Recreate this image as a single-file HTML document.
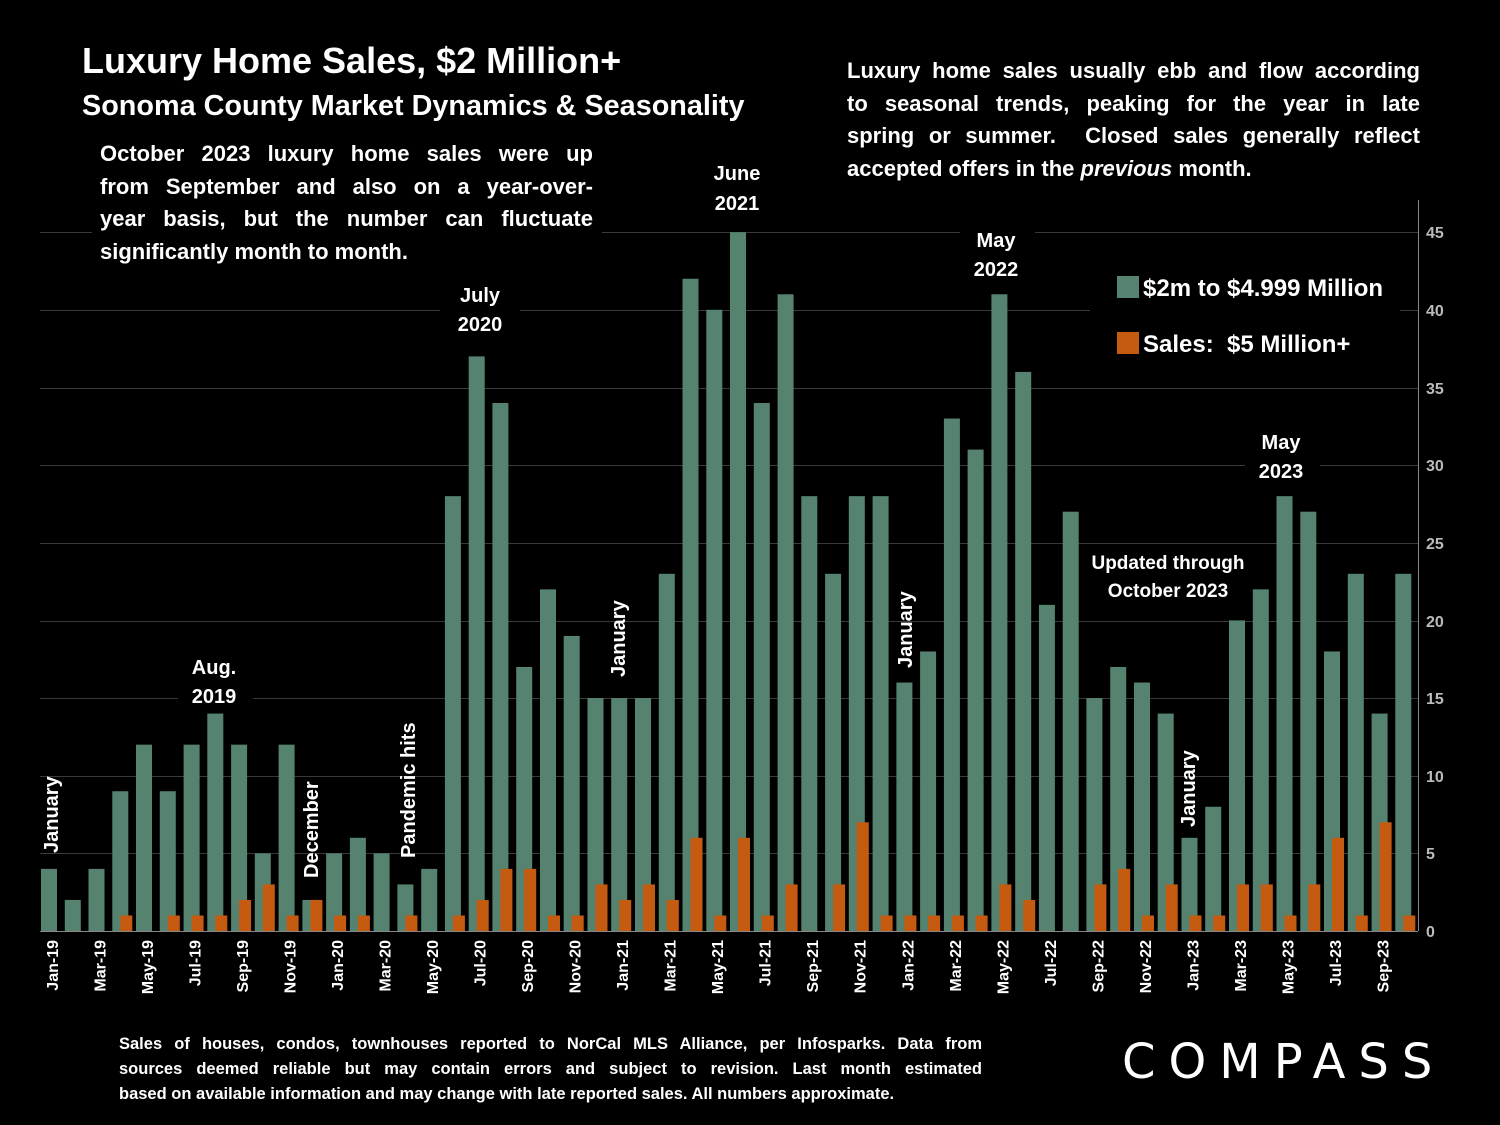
<!DOCTYPE html>
<html><head><meta charset="utf-8"><style>
html,body{margin:0;padding:0;background:#000;}
body{width:1500px;height:1125px;overflow:hidden;position:relative;font-family:"Liberation Sans",sans-serif;color:#fff;}
.abs{position:absolute;}
.j{text-align:justify;text-align-last:justify;white-space:nowrap;}
.l{text-align:left;white-space:nowrap;}
</style></head><body>
<svg width="1500" height="1125" style="position:absolute;left:0;top:0" font-family="Liberation Sans, sans-serif" font-weight="bold">
<rect width="1500" height="1125" fill="#000"/>
<g stroke="#3a3a3a" stroke-width="1">
<line x1="40" x2="1418" y1="853.5" y2="853.5"/>
<line x1="40" x2="1418" y1="776.5" y2="776.5"/>
<line x1="40" x2="1418" y1="698.5" y2="698.5"/>
<line x1="40" x2="1418" y1="621.5" y2="621.5"/>
<line x1="40" x2="1418" y1="543.5" y2="543.5"/>
<line x1="40" x2="1418" y1="465.5" y2="465.5"/>
<line x1="40" x2="1418" y1="388.5" y2="388.5"/>
<line x1="40" x2="1418" y1="310.5" y2="310.5"/>
<line x1="40" x2="1418" y1="232.5" y2="232.5"/>
</g>
<g stroke="#888" stroke-width="1">
<line x1="40" x2="1418" y1="931.5" y2="931.5"/>
<line x1="1418.5" x2="1418.5" y1="200" y2="931"/>
</g>
<g fill="#bbb" font-size="16" font-weight="bold">
<text x="1426" y="937">0</text><text x="1426" y="859">5</text><text x="1426" y="782">10</text><text x="1426" y="704">15</text><text x="1426" y="627">20</text><text x="1426" y="549">25</text><text x="1426" y="471">30</text><text x="1426" y="394">35</text><text x="1426" y="316">40</text><text x="1426" y="238">45</text>
</g>
<g fill="#000">
<rect x="70" y="30" width="690" height="100"/>
<rect x="92" y="137" width="510" height="130"/>
<rect x="835" y="55" width="590" height="135"/>
<rect x="1090" y="265" width="310" height="100"/>
<rect x="440" y="278" width="80" height="60"/>
<rect x="700" y="157" width="75" height="60"/>
<rect x="960" y="223" width="75" height="60"/>
<rect x="1245" y="425" width="75" height="60"/>
<rect x="178" y="650" width="75" height="60"/>
<rect x="1086" y="545" width="164" height="60"/>
</g>
<g transform="translate(0,931) scale(1,-15.53)">
<g fill="#55836f">
<rect x="41" y="0" width="16" height="4"/><rect x="64.8" y="0" width="16" height="2"/><rect x="88.5" y="0" width="16" height="4"/><rect x="112.3" y="0" width="16" height="9"/><rect x="136" y="0" width="16" height="12"/><rect x="159.8" y="0" width="16" height="9"/><rect x="183.6" y="0" width="16" height="12"/><rect x="207.3" y="0" width="16" height="14"/><rect x="231.1" y="0" width="16" height="12"/><rect x="254.8" y="0" width="16" height="5"/><rect x="278.6" y="0" width="16" height="12"/><rect x="302.4" y="0" width="16" height="2"/>
<rect x="326.1" y="0" width="16" height="5"/><rect x="349.9" y="0" width="16" height="6"/><rect x="373.6" y="0" width="16" height="5"/><rect x="397.4" y="0" width="16" height="3"/><rect x="421.2" y="0" width="16" height="4"/><rect x="444.9" y="0" width="16" height="28"/><rect x="468.7" y="0" width="16" height="37"/><rect x="492.4" y="0" width="16" height="34"/><rect x="516.2" y="0" width="16" height="17"/><rect x="540" y="0" width="16" height="22"/><rect x="563.7" y="0" width="16" height="19"/><rect x="587.5" y="0" width="16" height="15"/>
<rect x="611.2" y="0" width="16" height="15"/><rect x="635" y="0" width="16" height="15"/><rect x="658.8" y="0" width="16" height="23"/><rect x="682.5" y="0" width="16" height="42"/><rect x="706.3" y="0" width="16" height="40"/><rect x="730" y="0" width="16" height="45"/><rect x="753.8" y="0" width="16" height="34"/><rect x="777.6" y="0" width="16" height="41"/><rect x="801.3" y="0" width="16" height="28"/><rect x="825.1" y="0" width="16" height="23"/><rect x="848.8" y="0" width="16" height="28"/><rect x="872.6" y="0" width="16" height="28"/>
<rect x="896.4" y="0" width="16" height="16"/><rect x="920.1" y="0" width="16" height="18"/><rect x="943.9" y="0" width="16" height="33"/><rect x="967.6" y="0" width="16" height="31"/><rect x="991.4" y="0" width="16" height="41"/><rect x="1015.2" y="0" width="16" height="36"/><rect x="1038.9" y="0" width="16" height="21"/><rect x="1062.7" y="0" width="16" height="27"/><rect x="1086.4" y="0" width="16" height="15"/><rect x="1110.2" y="0" width="16" height="17"/><rect x="1134" y="0" width="16" height="16"/><rect x="1157.7" y="0" width="16" height="14"/>
<rect x="1181.5" y="0" width="16" height="6"/><rect x="1205.2" y="0" width="16" height="8"/><rect x="1229" y="0" width="16" height="20"/><rect x="1252.8" y="0" width="16" height="22"/><rect x="1276.5" y="0" width="16" height="28"/><rect x="1300.3" y="0" width="16" height="27"/><rect x="1324" y="0" width="16" height="18"/><rect x="1347.8" y="0" width="16" height="23"/><rect x="1371.6" y="0" width="16" height="14"/><rect x="1395.3" y="0" width="16" height="23"/>
</g>
<g fill="#c55a11">
<rect x="120.3" y="0" width="12" height="1"/><rect x="167.8" y="0" width="12" height="1"/><rect x="191.6" y="0" width="12" height="1"/><rect x="215.3" y="0" width="12" height="1"/><rect x="239.1" y="0" width="12" height="2"/><rect x="262.8" y="0" width="12" height="3"/><rect x="286.6" y="0" width="12" height="1"/><rect x="310.4" y="0" width="12" height="2"/>
<rect x="334.1" y="0" width="12" height="1"/><rect x="357.9" y="0" width="12" height="1"/><rect x="405.4" y="0" width="12" height="1"/><rect x="452.9" y="0" width="12" height="1"/><rect x="476.7" y="0" width="12" height="2"/><rect x="500.4" y="0" width="12" height="4"/><rect x="524.2" y="0" width="12" height="4"/><rect x="548" y="0" width="12" height="1"/><rect x="571.7" y="0" width="12" height="1"/><rect x="595.5" y="0" width="12" height="3"/>
<rect x="619.2" y="0" width="12" height="2"/><rect x="643" y="0" width="12" height="3"/><rect x="666.8" y="0" width="12" height="2"/><rect x="690.5" y="0" width="12" height="6"/><rect x="714.3" y="0" width="12" height="1"/><rect x="738" y="0" width="12" height="6"/><rect x="761.8" y="0" width="12" height="1"/><rect x="785.6" y="0" width="12" height="3"/><rect x="833.1" y="0" width="12" height="3"/><rect x="856.8" y="0" width="12" height="7"/><rect x="880.6" y="0" width="12" height="1"/>
<rect x="904.4" y="0" width="12" height="1"/><rect x="928.1" y="0" width="12" height="1"/><rect x="951.9" y="0" width="12" height="1"/><rect x="975.6" y="0" width="12" height="1"/><rect x="999.4" y="0" width="12" height="3"/><rect x="1023.2" y="0" width="12" height="2"/><rect x="1094.4" y="0" width="12" height="3"/><rect x="1118.2" y="0" width="12" height="4"/><rect x="1142" y="0" width="12" height="1"/><rect x="1165.7" y="0" width="12" height="3"/>
<rect x="1189.5" y="0" width="12" height="1"/><rect x="1213.2" y="0" width="12" height="1"/><rect x="1237" y="0" width="12" height="3"/><rect x="1260.8" y="0" width="12" height="3"/><rect x="1284.5" y="0" width="12" height="1"/><rect x="1308.3" y="0" width="12" height="3"/><rect x="1332" y="0" width="12" height="6"/><rect x="1355.8" y="0" width="12" height="1"/><rect x="1379.6" y="0" width="12" height="7"/><rect x="1403.3" y="0" width="12" height="1"/>
</g>
</g>
<g fill="#fff" font-size="16" text-anchor="end">
<text transform="translate(57.9,940) rotate(-90)">Jan-19</text>
<text transform="translate(105.4,940) rotate(-90)">Mar-19</text>
<text transform="translate(153,940) rotate(-90)">May-19</text>
<text transform="translate(200.5,940) rotate(-90)">Jul-19</text>
<text transform="translate(248,940) rotate(-90)">Sep-19</text>
<text transform="translate(295.5,940) rotate(-90)">Nov-19</text>
<text transform="translate(343,940) rotate(-90)">Jan-20</text>
<text transform="translate(390.5,940) rotate(-90)">Mar-20</text>
<text transform="translate(438.1,940) rotate(-90)">May-20</text>
<text transform="translate(485.6,940) rotate(-90)">Jul-20</text>
<text transform="translate(533.1,940) rotate(-90)">Sep-20</text>
<text transform="translate(580.6,940) rotate(-90)">Nov-20</text>
<text transform="translate(628.1,940) rotate(-90)">Jan-21</text>
<text transform="translate(675.7,940) rotate(-90)">Mar-21</text>
<text transform="translate(723.2,940) rotate(-90)">May-21</text>
<text transform="translate(770.7,940) rotate(-90)">Jul-21</text>
<text transform="translate(818.2,940) rotate(-90)">Sep-21</text>
<text transform="translate(865.7,940) rotate(-90)">Nov-21</text>
<text transform="translate(913.3,940) rotate(-90)">Jan-22</text>
<text transform="translate(960.8,940) rotate(-90)">Mar-22</text>
<text transform="translate(1008.3,940) rotate(-90)">May-22</text>
<text transform="translate(1055.8,940) rotate(-90)">Jul-22</text>
<text transform="translate(1103.3,940) rotate(-90)">Sep-22</text>
<text transform="translate(1150.8,940) rotate(-90)">Nov-22</text>
<text transform="translate(1198.4,940) rotate(-90)">Jan-23</text>
<text transform="translate(1245.9,940) rotate(-90)">Mar-23</text>
<text transform="translate(1293.4,940) rotate(-90)">May-23</text>
<text transform="translate(1340.9,940) rotate(-90)">Jul-23</text>
<text transform="translate(1388.4,940) rotate(-90)">Sep-23</text>
</g>
<g fill="#fff" font-size="20" text-anchor="middle">
<text x="214" y="674">Aug.</text><text x="214" y="703">2019</text>
<text x="480" y="302">July</text><text x="480" y="331">2020</text>
<text x="737" y="180">June</text><text x="737" y="210">2021</text>
<text x="996" y="247">May</text><text x="996" y="276">2022</text>
<text x="1281" y="449">May</text><text x="1281" y="478">2023</text>
<text x="1168" y="569" font-size="19">Updated through</text><text x="1168" y="597" font-size="19">October 2023</text>
</g>
<g fill="#fff" font-size="20">
<text transform="translate(58,853) rotate(-90)">January</text>
<text transform="translate(318,878) rotate(-90)">December</text>
<text transform="translate(415,858) rotate(-90)">Pandemic hits</text>
<text transform="translate(625,677) rotate(-90)">January</text>
<text transform="translate(912,668) rotate(-90)">January</text>
<text transform="translate(1195,827) rotate(-90)">January</text>
</g>
<rect x="1117" y="276" width="22" height="22" fill="#55836f"/>
<rect x="1117" y="332" width="22" height="22" fill="#c55a11"/>
<g fill="#fff" font-size="24">
<text x="1143" y="296">$2m to $4.999 Million</text>
<text x="1143" y="352">Sales:&#160; $5 Million+</text>
</g>
<text x="82" y="73" fill="#fff" font-size="36">Luxury Home Sales, $2 Million+</text>
<text x="82" y="115" fill="#fff" font-size="28.8">Sonoma County Market Dynamics &amp; Seasonality</text>
</svg>
<div class="abs" style="left:100px;top:138px;width:493px;font-size:22px;font-weight:bold;line-height:32.5px;">
<div class="j">October 2023 luxury home sales were up</div>
<div class="j">from September and also on a year-over-</div>
<div class="j">year basis, but the number can fluctuate</div>
<div class="l">significantly month to month.</div>
</div>
<div class="abs" style="left:847px;top:55px;width:573px;font-size:22px;font-weight:bold;line-height:32.5px;">
<div class="j">Luxury home sales usually ebb and flow according</div>
<div class="j">to seasonal trends, peaking for the year in late</div>
<div class="j">spring or summer.&#160; Closed sales generally reflect</div>
<div class="l">accepted offers in the <i>previous</i> month.</div>
</div>
<div class="abs" style="left:119px;top:1032px;width:863px;font-size:16.5px;font-weight:bold;line-height:25px;">
<div class="j">Sales of houses, condos, townhouses reported to NorCal MLS Alliance, per Infosparks. Data from</div>
<div class="j">sources deemed reliable but may contain errors and subject to revision. Last month estimated</div>
<div class="l">based on available information and may change with late reported sales. All numbers approximate.</div>
</div>
<div class="abs" style="left:1122px;top:1034px;font-size:48px;letter-spacing:13px;font-weight:normal;font-family:'DejaVu Sans','Liberation Sans',sans-serif;line-height:56px;">COMPASS</div>
</body></html>
